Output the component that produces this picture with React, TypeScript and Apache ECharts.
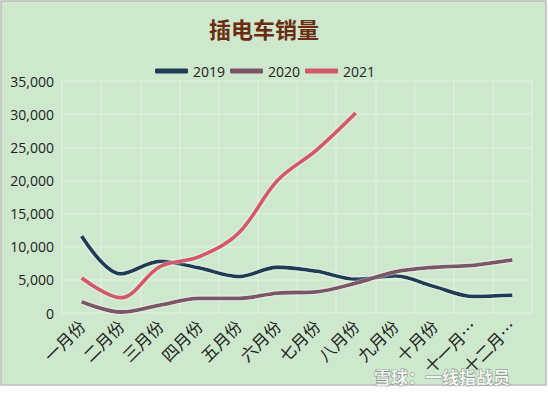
import React, { useEffect, useRef } from "react";
import * as echarts from "echarts";

const months = ["一月份", "二月份", "三月份", "四月份", "五月份", "六月份", "七月份", "八月份", "九月份", "十月份", "十一月份", "十二月份"];
const s2019 = [11600, 5900, 7800, 6800, 5500, 6900, 6300, 5100, 5600, 4000, 2500, 2700];
const s2020 = [1700, 150, 1200, 2200, 2200, 3000, 3200, 4500, 6200, 6900, 7200, 8000];
const s2021 = [5300, 2300, 7000, 8500, 12000, 20000, 24600, 30200];
const yTicks = { min: 0, max: 35000, interval: 5000 };

export default function App() {
  const ref = useRef<HTMLDivElement>(null);
  useEffect(() => {
    document.body.style.margin = "0";
    const chart = echarts.init(ref.current!, null, { renderer: "svg" });
    const mk = (name: string, data: number[], color: string) => ({
      name,
      type: "line",
      data,
      smooth: 0.35,
      symbol: "none",
      lineStyle: { width: 3.8, color, shadowColor: "rgba(255,255,255,0.9)", shadowBlur: 2 },
      itemStyle: { color },
    });
    chart.setOption({
      animation: false,
      backgroundColor: "#ffffff",
      graphic: [
        {
          type: "rect",
          shape: { x: 1, y: 1, width: 545, height: 384 },
          style: { fill: "#cde8cc", stroke: "#bdbdbd", lineWidth: 1.5 },
          z: -10,
          silent: true,
        },
        {
          type: "text",
          x: 374,
          y: 368,
          style: {
            text: "雪球：一线指战员",
            font: "bold 17px 'Noto Sans CJK SC'",
            fill: "rgba(255,255,255,0.85)",
            stroke: "rgba(80,80,80,0.6)",
            lineWidth: 1,
          },
          z: 10,
        },
      ],
      title: {
        text: "插电车销量",
        left: 204,
        top: 12,
        textStyle: { fontFamily: "Noto Sans CJK SC", fontSize: 22, fontWeight: "bold", color: "#6b2c12" },
      },
      legend: {
        top: 59,
        left: 150,
        itemWidth: 33,
        itemHeight: 5,
        itemGap: 5,
        icon: "roundRect",
        textStyle: { fontFamily: "Open Sans", fontSize: 14, color: "#222" },
        data: ["2019", "2020", "2021"],
      },
      grid: { left: 62, right: 16, top: 81, bottom: 83 },
      xAxis: {
        type: "category",
        data: months,
        boundaryGap: true,
        axisLine: { show: false },
        axisTick: { show: false },
        splitLine: { show: true, lineStyle: { color: "#dbefdb", width: 1.5 } },
        axisLabel: {
          rotate: 45,
          interval: 0,
          margin: 10,
          fontFamily: "Noto Sans CJK SC",
          fontSize: 16.5,
          color: "#222",
          formatter: (v: string) => (v.length > 3 ? v.slice(0, 3) + "…" : v),
        },
      },
      yAxis: {
        type: "value",
        min: yTicks.min,
        max: yTicks.max,
        interval: yTicks.interval,
        axisLine: { show: false },
        axisTick: { show: false },
        splitLine: { show: true, lineStyle: { color: "#dbefdb", width: 1.5 } },
        axisLabel: {
          margin: 8,
          fontFamily: "Open Sans",
          fontSize: 14,
          color: "#222",
          formatter: (v: number) => v.toLocaleString("en-US"),
        },
      },
      series: [mk("2019", s2019, "#1f3c57"), mk("2020", s2020, "#7b5668"), mk("2021", s2021, "#d3586a")],
    });
    return () => chart.dispose();
  }, []);
  return <div ref={ref} style={{ width: 548, height: 396 }} />;
}
